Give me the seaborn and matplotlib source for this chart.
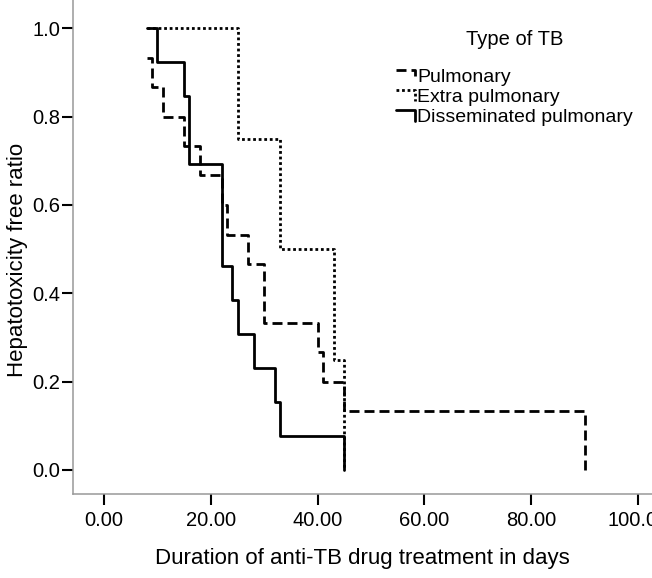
import pandas as pd
import matplotlib
matplotlib.use('Agg')
import matplotlib.pyplot as plt
from matplotlib.lines import Line2D
from matplotlib.legend_handler import HandlerLine2D
import seaborn as sns

# Kaplan-Meier style step data
pulm_days = [8, 9, 11, 15, 18, 22, 23, 27, 30, 40, 41, 45, 90]
pulm_ratio = [0.933, 0.867, 0.8, 0.733, 0.667, 0.6, 0.533, 0.467, 0.333, 0.267, 0.2, 0.133, 0.0]

extra_days = [8, 25, 33, 43, 45]
extra_ratio = [1.0, 0.75, 0.5, 0.25, 0.0]

diss_days = [8, 10, 15, 16, 22, 24, 25, 28, 32, 33, 45]
diss_ratio = [1.0, 0.923, 0.846, 0.692, 0.462, 0.385, 0.308, 0.231, 0.154, 0.077, 0.0]

tb_types = ['Pulmonary', 'Extra pulmonary', 'Disseminated pulmonary']
x_ticks = [0, 20, 40, 60, 80, 100]
y_ticks = [0.0, 0.2, 0.4, 0.6, 0.8, 1.0]

df = pd.concat([
    pd.DataFrame({'days': pulm_days, 'ratio': pulm_ratio, 'type': tb_types[0]}),
    pd.DataFrame({'days': extra_days, 'ratio': extra_ratio, 'type': tb_types[1]}),
    pd.DataFrame({'days': diss_days, 'ratio': diss_ratio, 'type': tb_types[2]}),
], ignore_index=True)

sns.set_style('ticks')
plt.rcParams['font.family'] = ['Liberation Sans', 'DejaVu Sans']
plt.rcParams['text.color'] = 'black'
plt.rcParams['axes.labelcolor'] = 'black'
plt.rcParams['xtick.color'] = 'black'
plt.rcParams['ytick.color'] = 'black'

dash_map = {'Pulmonary': (3.6, 1.8), 'Extra pulmonary': (1.0, 1.0), 'Disseminated pulmonary': ''}
lw = 2.0

fig = plt.figure(figsize=(6.52, 5.78), dpi=100)
ax = fig.add_axes([0.112, 0.1445, 0.888, 0.8555])

sns.lineplot(data=df, x='days', y='ratio', style='type', dashes=dash_map,
             color='black', linewidth=lw, drawstyle='steps-post',
             estimator=None, sort=False, legend=False, ax=ax)

ax.set_xlim(-5.8, 102.6)
ax.set_ylim(-0.0555, 1.064)
ax.set_xticks(x_ticks)
ax.set_xticklabels([f'{v:.2f}' for v in x_ticks])
ax.set_yticks(y_ticks)
ax.set_yticklabels([f'{v:.1f}' for v in y_ticks])
ax.tick_params(axis='both', labelsize=14.5, length=8, width=1.5, colors='black')
ax.tick_params(axis='y', pad=1)
ax.tick_params(axis='x', pad=4)

sns.despine(ax=ax)
for side in ['left', 'bottom']:
    ax.spines[side].set_color('#999999')
    ax.spines[side].set_linewidth(1.1)

ax.set_xlabel('Duration of anti-TB drug treatment in days', fontsize=16, labelpad=13)
ax.set_ylabel('Hepatotoxicity free ratio', fontsize=16)
ax.yaxis.set_label_coords(-0.078, 0.474)


class StepHandler(HandlerLine2D):
    def create_artists(self, legend, orig_handle, xdescent, ydescent,
                       width, height, fontsize, trans):
        x0 = -xdescent
        x1 = -xdescent + width
        ytop = height * 0.85 - ydescent
        ybot = height * 0.05 - ydescent
        line = Line2D([x0, x1, x1], [ytop, ytop, ybot])
        line.update_from(orig_handle)
        line.set_transform(trans)
        return [line]


handles = [Line2D([], [], color='black', linewidth=lw, dashes=dash_map[t]) if dash_map[t]
           else Line2D([], [], color='black', linewidth=lw) for t in tb_types]
leg = ax.legend(handles, tb_types, title='Type of TB', loc='upper left',
                bbox_to_anchor=(396 / 652, 1 - 30 / 578), bbox_transform=fig.transFigure,
                frameon=False, fontsize=14, title_fontsize=14.5, handlelength=1.0,
                handletextpad=0.1, labelspacing=0.12, borderpad=0, borderaxespad=0,
                handler_map={Line2D: StepHandler()})
leg._legend_box.sep = 14

fig.savefig('out.png', dpi=100)
